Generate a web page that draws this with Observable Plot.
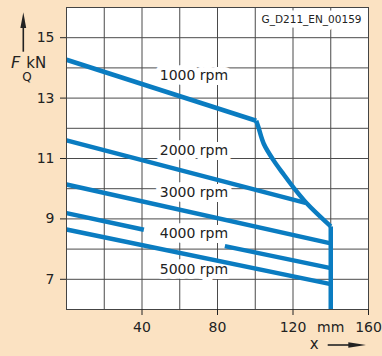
<!DOCTYPE html>
<html><head><meta charset="utf-8">
<script src="https://cdn.jsdelivr.net/npm/d3@7"></script>
<script src="https://cdn.jsdelivr.net/npm/@observablehq/plot@0.6"></script>
<style>
html,body{margin:0;padding:0;background:#fbe2c2;}
</style></head><body><div id="chart"></div>
<script>
// Data
const speeds = ["1000 rpm", "2000 rpm", "3000 rpm", "4000 rpm", "5000 rpm"];
const rpm1000X = [0, 100.5];           const rpm1000Y = [14.27, 12.25];
const rpm2000X = [0, 126.6];           const rpm2000Y = [11.60, 9.53];
const rpm3000X = [0, 140];             const rpm3000Y = [10.14, 8.19];
const rpm4000aX = [0, 41];             const rpm4000aY = [9.19, 8.64];
const rpm4000bX = [83.9, 140];         const rpm4000bY = [8.10, 7.37];
const rpm5000X = [0, 140];             const rpm5000Y = [8.65, 6.84];
const limitCurveX = [100.5, 101.6, 104.5, 109.8, 115.1, 120.4, 127.5, 140];
const limitCurveY = [12.25, 12.05, 11.49, 10.93, 10.47, 10.03, 9.50, 8.75];
const limitEdgeX = [140, 140];
const limitEdgeY = [8.75, 6];
const labelX = [67.5, 67.5, 67.5, 67.5, 67.5];
const labelY = [13.76, 11.26, 9.88, 8.51, 7.31];
const xTicks = [40, 80, 120, 160];
const yTicks = [7, 9, 11, 13, 15];
const xGrid = [20, 40, 60, 80, 100, 120, 140];
const yGrid = [7, 8, 9, 10, 11, 12, 13, 14, 15];
const drawingId = "G_D211_EN_00159";

const lines = [];
function add(arr, name, xs, ys) { xs.forEach((x, i) => arr.push({series: name, x, y: ys[i]})); }
add(lines, "1000", rpm1000X, rpm1000Y);
add(lines, "2000", rpm2000X, rpm2000Y);
add(lines, "3000", rpm3000X, rpm3000Y);
add(lines, "4000a", rpm4000aX, rpm4000aY);
add(lines, "4000b", rpm4000bX, rpm4000bY);
add(lines, "5000", rpm5000X, rpm5000Y);
add(lines, "edge", limitEdgeX, limitEdgeY);
const curve = [];
add(curve, "limit", limitCurveX, limitCurveY);
const labels = speeds.map((t, i) => ({text: t, x: labelX[i], y: labelY[i]}));

const blue = "#0a7cc1";
const grid = "#4a4a4a";

const svg = Plot.plot({
  width: 382, height: 356,
  marginLeft: 66, marginRight: 14, marginTop: 7, marginBottom: 47,
  x: {domain: [0, 160]},
  y: {domain: [6, 16]},
  style: {fontFamily: "'DejaVu Sans', sans-serif", fontSize: "14px", background: "#fbe2c2", color: "#222", overflow: "visible"},
  marks: [
    Plot.frame({fill: "white"}),
    Plot.ruleX(xGrid, {stroke: grid, strokeWidth: 1}),
    Plot.ruleY(yGrid, {stroke: grid, strokeWidth: 1}),
    Plot.text(labels, {x: "x", y: "y", text: "text", fontSize: 14, fill: "#222", stroke: "white", strokeWidth: 10, strokeLinejoin: "round"}),
    Plot.text([drawingId], {frameAnchor: "top-right", dx: -7, dy: 8, lineAnchor: "top", textAnchor: "end", fontSize: 10.5, fill: "#222", stroke: "white", strokeWidth: 9, strokeLinejoin: "round"}),
    Plot.line(lines, {x: "x", y: "y", z: "series", stroke: blue, strokeWidth: 4.5, strokeLinecap: "butt", strokeLinejoin: "miter"}),
    Plot.line(curve, {x: "x", y: "y", stroke: blue, strokeWidth: 4.5, strokeLinecap: "butt", curve: "catmull-rom"}),
    Plot.frame({stroke: "#444"}),
    Plot.axisY({ticks: yTicks, tickSize: 6, tickPadding: 6, fontSize: 14, label: null}),
    Plot.axisX({ticks: xTicks, tickSize: 6, tickPadding: 7, fontSize: 14, label: null}),
    Plot.axisX({ticks: [140], tickSize: 0, tickPadding: 13, fontSize: 14, tickFormat: () => "mm", label: null})
  ]
});

// axis label decorations (F_Q kN with arrow, x with arrow)
const g = d3.select(svg).append("g").attr("fill", "#222").attr("font-family", "'DejaVu Sans', sans-serif");
g.append("line").attr("x1", 23.3).attr("x2", 23.3).attr("y1", 51.7).attr("y2", 26).attr("stroke", "#222").attr("stroke-width", 1.6);
g.append("path").attr("d", "M23.3,12.3 L26.2,28 L20.4,28 Z");
g.append("text").attr("x", 15.5).attr("y", 68.3).attr("font-size", 16).attr("font-style", "italic").text("F");
g.append("text").attr("x", 27).attr("y", 81).attr("font-size", 12).text("Q");
g.append("text").attr("x", 36.3).attr("y", 68.3).attr("font-size", 15).text("kN");
g.append("text").attr("x", 314.3).attr("y", 349.3).attr("font-size", 15).text("x");
g.append("line").attr("x1", 327.7).attr("x2", 350).attr("y1", 345).attr("y2", 345).attr("stroke", "#222").attr("stroke-width", 1.6);
g.append("path").attr("d", "M366,345 L348.3,342.3 L348.3,347.7 Z");

document.getElementById("chart").appendChild(svg);
</script>
</body></html>
